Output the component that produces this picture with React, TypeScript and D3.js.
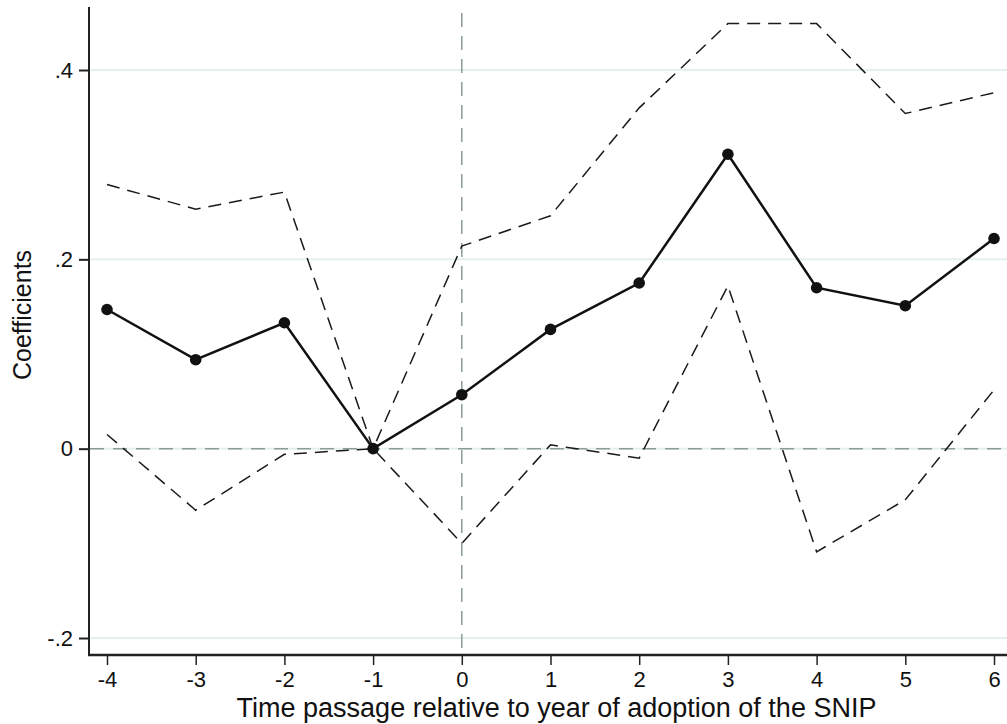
import React, {useRef, useEffect} from "react";
import {select, scaleLinear, line, axisBottom, axisLeft} from "d3";

// event-study estimates
const years = [-4, -3, -2, -1, 0, 1, 2, 3, 4, 5, 6];
const coefs = [0.147, 0.094, 0.133, 0.0, 0.057, 0.126, 0.175, 0.311, 0.170, 0.151, 0.222];
const upperCI = [0.279, 0.253, 0.271, 0.0, 0.214, 0.246, 0.360, 0.449, 0.449, 0.354, 0.376];
const lowerCI = [0.015, -0.065, -0.006, 0.0, -0.100, 0.004, -0.010, 0.172, -0.109, -0.054, 0.062];

const yTicks = [-0.2, 0, 0.2, 0.4];
const yTickLabels = ["-.2", "0", ".2", ".4"];

const xTitle = "Time passage relative to year of adoption of the SNIP";
const yTitle = "Coefficients";

const width = 1007;
const height = 724;
const font = "'Liberation Sans', Arial, Helvetica, sans-serif";

const renderChart = (svgEl) => {
    const svg = select(svgEl);
    svg.selectAll("*").remove();

    const plotLeft = 89;
    const plotTop = 8;
    const plotBottom = 655;

    const x = scaleLinear().domain([-4, 6]).range([107, 994]);
    const y = scaleLinear().domain([-0.2, 0.4]).range([638, 70]);

    // light gridlines
    svg.append("g").selectAll("line").data(yTicks).enter().append("line")
        .attr("x1", plotLeft + 1)
        .attr("x2", width)
        .attr("y1", d => y(d))
        .attr("y2", d => y(d))
        .attr("stroke", "#e6eff0")
        .attr("stroke-width", 2);

    // reference lines at 0
    svg.append("line")
        .attr("x1", plotLeft + 1).attr("x2", width)
        .attr("y1", y(0)).attr("y2", y(0))
        .attr("stroke", "#8a9d99")
        .attr("stroke-width", 1.5)
        .attr("stroke-dasharray", "14,9");
    svg.append("line")
        .attr("x1", x(0)).attr("x2", x(0))
        .attr("y1", plotTop + 5).attr("y2", plotBottom - 2)
        .attr("stroke", "#8a9d99")
        .attr("stroke-width", 1.5)
        .attr("stroke-dasharray", "14,9");

    // y axis
    const yAxisG = svg.append("g")
        .attr("transform", `translate(${plotLeft}, 0)`)
        .call(axisLeft(y).tickValues(yTicks).tickFormat((d, i) => yTickLabels[i]).tickSize(10).tickPadding(6));
    yAxisG.select(".domain").remove();
    yAxisG.append("line")
        .attr("x1", 0).attr("x2", 0)
        .attr("y1", plotTop - 1).attr("y2", plotBottom)
        .attr("stroke", "#222")
        .attr("stroke-width", 2);
    yAxisG.selectAll(".tick line").attr("stroke", "#222").attr("stroke-width", 2);
    yAxisG.selectAll(".tick text")
        .attr("fill", "#111")
        .style("font-family", font)
        .style("font-size", "22px");

    // x axis
    const xAxisG = svg.append("g")
        .attr("transform", `translate(0, ${plotBottom})`)
        .call(axisBottom(x).tickValues(years).tickFormat(d => `${d}`).tickSize(10).tickPadding(6));
    xAxisG.select(".domain").remove();
    xAxisG.append("line")
        .attr("x1", plotLeft - 1).attr("x2", width)
        .attr("y1", 0).attr("y2", 0)
        .attr("stroke", "#222")
        .attr("stroke-width", 2.5);
    xAxisG.selectAll(".tick line").attr("stroke", "#222").attr("stroke-width", 1.5);
    xAxisG.selectAll(".tick text")
        .attr("fill", "#111")
        .style("font-family", font)
        .style("font-size", "22px");

    // axis titles
    svg.append("text")
        .attr("x", (233 + 880) / 2)
        .attr("y", 717)
        .attr("text-anchor", "middle")
        .attr("fill", "#111")
        .style("font-family", font)
        .style("font-size", "27px")
        .text(xTitle);
    svg.append("text")
        .attr("transform", `translate(31, 315) rotate(-90)`)
        .attr("text-anchor", "middle")
        .attr("fill", "#111")
        .style("font-family", font)
        .style("font-size", "25px")
        .text(yTitle);

    // confidence bounds
    const ciLine = line().x(d => x(d[0])).y(d => y(d[1]));
    [upperCI, lowerCI].forEach(bound => {
        svg.append("path")
            .datum(years.map((yr, i) => [yr, bound[i]]))
            .attr("d", ciLine)
            .attr("fill", "none")
            .attr("stroke", "#1a1a1a")
            .attr("stroke-width", 1.5)
            .attr("stroke-dasharray", "13,8");
    });

    // point estimates
    const pts = years.map((yr, i) => [yr, coefs[i]]);
    svg.append("path")
        .datum(pts)
        .attr("d", ciLine)
        .attr("fill", "none")
        .attr("stroke", "#111")
        .attr("stroke-width", 2.5);
    svg.append("g").selectAll("circle").data(pts).enter().append("circle")
        .attr("cx", d => x(d[0]))
        .attr("cy", d => y(d[1]))
        .attr("r", 5.8)
        .attr("fill", "#111");
};

const App = () => {
    const svgRef = useRef(null);

    useEffect(() => {
        if (svgRef.current) renderChart(svgRef.current);
    });

    return (
        <svg ref={svgRef} width={width} height={height}
             style={{position: "absolute", left: 0, top: 0, background: "#fff"}}/>
    );
};

export default App;
